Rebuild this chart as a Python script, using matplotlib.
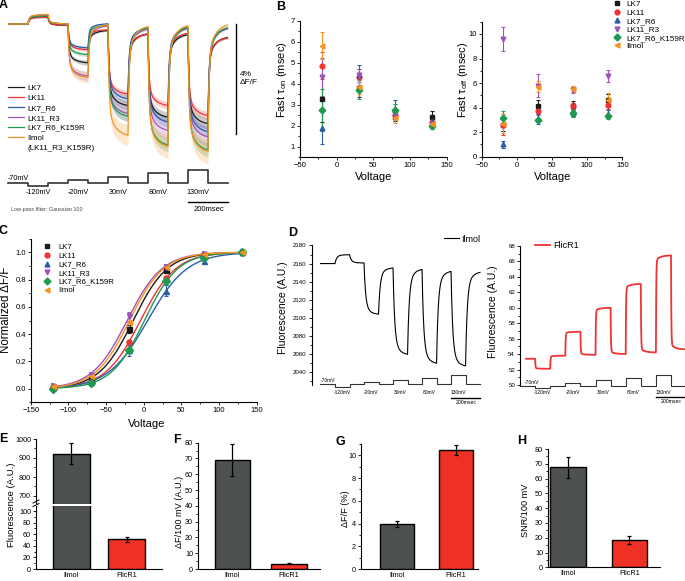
import numpy as np
import matplotlib
matplotlib.use('Agg')
import matplotlib.pyplot as plt
from matplotlib.transforms import Affine2D, blended_transform_factory
from matplotlib.lines import Line2D
from matplotlib.ticker import MultipleLocator

plt.rcParams['font.family'] = ['Liberation Sans', 'DejaVu Sans']
plt.rcParams['mathtext.fontset'] = 'custom'
plt.rcParams['mathtext.rm'] = 'Liberation Sans'
plt.rcParams['mathtext.it'] = 'Liberation Sans:italic'
plt.rcParams['axes.linewidth'] = 0.8

# ---- data ----
names = ['LK7', 'LK11', 'LK7_R6', 'LK11_R3', 'LK7_R6_K159R', 'Ilmol']
colors = ['#1a1a1a', '#ee3333', '#2a5caa', '#9e55b8', '#1f9a50', '#f7931e']
markers = ['s', 'o', '^', 'v', 'D', '<']

hold_mv = -70
step_mv = [-120, -20, 30, 80, 130]
step_on = [100, 300, 500, 700, 900]
step_len = 100
t_end = 1100

# panel A: dF/F (%) at end of each segment (pre, -120, gap, -20, gap, 30, gap, 80, gap, 130, post)
lk7_trace = [0, 0.27, -0.05, -1.43, -0.22, -3.00, -0.32, -3.43, -0.34, -3.67, -0.44]
lk11_trace = [0, 0.25, -0.05, -0.95, -0.20, -2.58, -0.34, -3.00, -0.30, -3.37, -0.46]
lk7r6_trace = [0, 0.33, 0.0, -0.88, 0.02, -2.76, -0.10, -3.61, -0.07, -3.97, -0.09]
lk11r3_trace = [0, 0.33, 0.0, -1.92, -0.04, -3.30, -0.15, -3.92, -0.11, -4.16, -0.11]
k159r_trace = [0, 0.29, 0.0, -1.13, -0.03, -3.40, -0.10, -4.46, -0.07, -4.64, -0.07]
ilmol_trace = [0, 0.35, 0.0, -1.97, 0.0, -4.10, -0.04, -4.52, 0.0, -4.70, 0.03]
sem_frac = [0.05, 0.04, 0.05, 0.08, 0.05, 0.09]

# panel B
tau_v = [-20, 30, 80, 130]
tau_on = [[3.25, 3.8, 2.4, 2.4], [4.85, 4.3, 2.5, 2.15], [1.9, 4.4, 2.75, 2.15],
          [4.3, 4.4, 2.55, 2.05], [2.72, 3.7, 2.75, 2.0], [5.8, 3.85, 2.35, 2.05]]
tau_on_err = [[1.1, 0.45, 0.2, 0.3], [0.65, 0.4, 0.2, 0.15], [0.8, 0.5, 0.45, 0.15],
              [0.9, 0.3, 0.25, 0.15], [1.0, 0.45, 0.3, 0.15], [0.65, 0.35, 0.25, 0.15]]
tau_off = [[2.6, 4.15, 4.1, 4.6], [2.6, 3.75, 4.1, 4.2], [1.0, 3.1, 3.6, 3.5],
           [9.6, 5.8, 5.45, 6.55], [3.15, 2.95, 3.55, 3.3], [2.7, 5.7, 5.55, 4.6]]
tau_off_err = [[0.5, 0.45, 0.4, 0.5], [0.85, 0.35, 0.3, 0.35], [0.3, 0.4, 0.3, 0.3],
               [0.95, 0.9, 0.25, 0.5], [0.55, 0.15, 0.3, 0.2], [0.8, 0.45, 0.25, 0.55]]

# panel C
norm_v = [-120, -70, -20, 30, 80, 130]
norm_df = [[0.01, 0.07, 0.44, 0.87, 0.98, 1.0], [0.01, 0.05, 0.34, 0.81, 0.97, 1.0],
           [0.01, 0.05, 0.28, 0.72, 0.94, 1.0], [0.02, 0.10, 0.53, 0.89, 0.99, 1.0],
           [0.0, 0.04, 0.28, 0.79, 0.96, 1.0], [0.02, 0.09, 0.49, 0.89, 0.99, 1.0]]
norm_err = [[0.01, 0.01, 0.03, 0.015, 0.01, 0.01], [0.01, 0.01, 0.02, 0.02, 0.01, 0.01],
            [0.01, 0.01, 0.04, 0.04, 0.015, 0.01], [0.01, 0.01, 0.03, 0.015, 0.01, 0.01],
            [0.01, 0.01, 0.02, 0.02, 0.01, 0.01], [0.01, 0.01, 0.04, 0.015, 0.01, 0.01]]

# panel D: fluorescence (A.U.) at end of each segment
ilmol_raw = [2160, 2170, 2160.5, 2103, 2156, 2058, 2155, 2048, 2153, 2045, 2152]
flicr1_raw = [53.4, 52.1, 53.8, 56.9, 53.9, 60.0, 54.0, 63.1, 54.2, 66.8, 54.6]

# panels E-H
bar_names = ['Ilmol', 'FlicR1']
bar_colors = ['#4d5152', '#ee3124']
bright = [922, 51]
bright_err = [55, 4]
df_abs = [69, 3.4]
df_abs_err = [10, 0.4]
df_rel = [3.95, 10.45]
df_rel_err = [0.25, 0.45]
snr = [67.5, 18.5]
snr_err = [7, 2.5]

# ---- figure ----
W, H = 685, 581
fig = plt.figure(figsize=(W / 100, H / 100), dpi=100)
px = Affine2D().scale(1 / W, -1 / H).translate(0, 1) + fig.transFigure


def box(x0, y0, x1, y1):
    return fig.add_axes([x0 / W, 1 - y1 / H, (x1 - x0) / W, (y1 - y0) / H])


def ftext(x, y, s, **kw):
    kw.setdefault('ha', 'center')
    kw.setdefault('va', 'center')
    fig.text(x / W, 1 - y / H, s, **kw)


def style(ax, fs=5.5, left_only=False):
    ax.spines['top'].set_visible(False)
    ax.spines['right'].set_visible(False)
    if left_only:
        ax.spines['bottom'].set_visible(False)
        ax.tick_params(axis='x', bottom=False, labelbottom=False)
    ax.tick_params(which='both', direction='out', width=0.6, labelsize=fs, pad=1)
    ax.tick_params(which='major', length=2.5)
    ax.tick_params(which='minor', length=1.5)


def kinetic(levels, fast, slow, frac, t):
    edges = [0] + sorted(step_on + [s + step_len for s in step_on])
    y = np.full(t.shape, float(levels[0]))
    start = levels[0]
    for i in range(1, len(levels)):
        t0 = edges[i]
        m = t >= t0
        dt = t[m] - t0
        y[m] = levels[i] + (start - levels[i]) * (frac * np.exp(-dt / fast) + (1 - frac) * np.exp(-dt / slow))
        if i + 1 < len(levels):
            dn = edges[i + 1] - t0
            start = levels[i] + (start - levels[i]) * (frac * np.exp(-dn / fast) + (1 - frac) * np.exp(-dn / slow))
    return y


def protocol(ax, lw):
    tt, vv = [0], [hold_mv]
    for on, mv in zip(step_on, step_mv):
        tt += [on, on, on + step_len, on + step_len]
        vv += [hold_mv, mv, mv, hold_mv]
    tt.append(t_end)
    vv.append(hold_mv)
    ax.plot(tt, vv, color='#333333', lw=lw, clip_on=False)


def protocol_axes(x0, x1, xlim, base, k, lab_y, bar_y, txt_y, fs, fs_bar, lw, m70):
    ax = box(x0, base - 16, x1, base + 6)
    ax.set_xlim(xlim)
    ax.set_ylim(hold_mv - 6 / k, hold_mv + 16 / k)
    ax.axis('off')
    protocol(ax, lw)
    tr = blended_transform_factory(ax.transData, px)
    for on, mv in zip(step_on, step_mv):
        ax.text(on + step_len / 2, lab_y, f'{mv}mV', transform=tr, ha='center', va='center', fontsize=fs)
    ax.plot([900, 1100], [bar_y, bar_y], transform=tr, color='k', lw=1, clip_on=False)
    ax.text(1005, txt_y, '200msec', transform=tr, ha='center', va='center', fontsize=fs_bar)
    ftext(m70[0], m70[1], '-70mV', ha='left', fontsize=fs)
    return ax


t = np.linspace(0, t_end, 2201)

# ---- A ----
axA = box(8, 10, 228, 170)
axA.set_xlim(0, t_end)
axA.set_ylim(-(170 - 24) / 27.5, (24 - 10) / 27.5)
axA.axis('off')
traces = [lk7_trace, lk11_trace, lk7r6_trace, lk11r3_trace, k159r_trace, ilmol_trace]
handles = []
for lev, c, n, sf in zip(traces, colors, names, sem_frac):
    y = kinetic(lev, 5, 35, 0.75, t)
    sem = sf * np.abs(y) + 0.02
    axA.fill_between(t, y - sem, y + sem, color=c, alpha=0.22, lw=0)
for lev, c, n in zip(traces, colors, names):
    y = kinetic(lev, 5, 35, 0.75, t)
    h, = axA.plot(t, y, color=c, lw=0.9)
    handles.append(h)
axA.plot([1140, 1140], [0, -4], color='k', lw=1, clip_on=False)
axA.text(1160, -1.98, '4%\nΔF/F', ha='left', va='center', fontsize=6, linespacing=1.3)
labels = names[:-1] + ['Ilmol', '(LK11_R3_K159R)']
handles = handles + [Line2D([], [], color='none')]
axA.legend(handles, labels, loc='upper left', bbox_to_anchor=(8, 84.5), bbox_transform=px,
           frameon=False, fontsize=5.8, borderpad=0, borderaxespad=0, handlelength=2.0,
           handletextpad=0.45, labelspacing=0.28)
protocol_axes(8, 228, (0, t_end), 183.2, 0.066, 192.3, 201.7, 209.3, 5.2, 5.5, 1.2, (8, 179))
ftext(11, 209.3, 'Low-pass filter: Gaussian 100', ha='left', fontsize=3.9, color='#444444')

# ---- B ----
axB1 = box(300, 20.7, 446.7, 157)
axB2 = box(481.7, 21.7, 622.3, 156.7)
for ax, vals, errs, ylim, ymaj, ymin in [(axB1, tau_on, tau_on_err, (0.5, 7), 1, 0.5),
                                         (axB2, tau_off, tau_off_err, (0, 11), 2, 1)]:
    for v, e, c, m in zip(vals, errs, colors, markers):
        ax.errorbar(tau_v, v, yerr=e, fmt=m, color=c, ms=3.4, capsize=1.6, elinewidth=0.8, capthick=0.8)
    ax.set_xlim(-50, 150)
    ax.set_ylim(*ylim)
    ax.xaxis.set_major_locator(MultipleLocator(50))
    ax.xaxis.set_minor_locator(MultipleLocator(25))
    ax.yaxis.set_major_locator(MultipleLocator(ymaj))
    ax.yaxis.set_minor_locator(MultipleLocator(ymin))
    style(ax)
axB1.set_yticks([1, 2, 3, 4, 5, 6, 7])
ftext(282, 80, 'Fast τ$_{\\mathrm{on}}$ (msec)', rotation=90, fontsize=8)
ftext(463, 80, 'Fast τ$_{\\mathrm{off}}$ (msec)', rotation=90, fontsize=8)
ftext(373.3, 176.7, 'Voltage', fontsize=8)
ftext(553, 176.7, 'Voltage', fontsize=8)
mk_handles = [Line2D([], [], ls='none', marker=m, color=c, ms=3.5) for m, c in zip(markers, colors)]
fig.legend(mk_handles, names, loc='upper left', bbox_to_anchor=(613, 0.5), bbox_transform=px,
           frameon=False, fontsize=5.9, borderpad=0, borderaxespad=0, handlelength=1.0,
           handletextpad=0.6, labelspacing=0.08)

# ---- C ----
axC = box(30.7, 238.7, 256.7, 402.3)
vf = np.linspace(-120, 130, 300)
v_arr = np.array(norm_v, float)
g50, gk = np.meshgrid(np.arange(-60, 40, 0.25), np.arange(8, 40, 0.25), indexing='ij')
for vals, errs, c, m in zip(norm_df, norm_err, colors, markers):
    pred = 1 / (1 + np.exp((g50[..., None] - v_arr) / gk[..., None]))
    sse = ((pred - np.array(vals)) ** 2).sum(-1)
    i, j = np.unravel_index(np.argmin(sse), sse.shape)
    axC.plot(vf, 1 / (1 + np.exp((g50[i, j] - vf) / gk[i, j])), color=c, lw=1, zorder=2)
    axC.errorbar(norm_v, vals, yerr=errs, fmt=m, color=c, ms=3.6, capsize=1.6,
                 elinewidth=0.8, capthick=0.8, zorder=3)
axC.set_xlim(-150, 150)
axC.set_ylim(-0.1, 1.1)
axC.xaxis.set_major_locator(MultipleLocator(50))
axC.xaxis.set_minor_locator(MultipleLocator(25))
axC.yaxis.set_minor_locator(MultipleLocator(0.1))
axC.set_yticks(np.arange(0, 1.01, 0.2))
axC.set_yticklabels([f'{v:.1f}' for v in np.arange(0, 1.01, 0.2)])
style(axC)
ftext(6, 310, 'Normalized ΔF/F', rotation=90, fontsize=8.3)
ftext(146.7, 424.3, 'Voltage', fontsize=8)
axC.legend(mk_handles, names, loc='upper left', bbox_to_anchor=(43, 243.5), bbox_transform=px,
           frameon=False, fontsize=5.6, borderpad=0, borderaxespad=0, handlelength=1.0,
           handletextpad=1.0, labelspacing=0.16)

# ---- D ----
axD1 = box(311.5, 245.5, 485, 385)
axD1.set_xlim(-62, 1134)
axD1.set_ylim(2040 - 13 / 0.9036, 2180)
hD1, = axD1.plot(t, kinetic(ilmol_raw, 11, 45, 0.85, t), color='k', lw=0.8)
axD1.yaxis.set_minor_locator(MultipleLocator(10))
style(axD1, fs=4.4, left_only=True)
axD1.set_yticks(np.arange(2040, 2181, 20))
axD1.legend([hD1], ['Ilmol'], loc='center left', bbox_to_anchor=(444, 239), bbox_transform=px,
            frameon=False, fontsize=6.5, borderpad=0, borderaxespad=0, handlelength=1.7,
            handletextpad=0.25)
protocol_axes(311.5, 485, (-62, 1134), 384.3, 0.045, 392.3, 397.7, 402.7, 3.5, 3.7, 0.8, (321, 381))
ftext(283.3, 307.5, 'Fluorescence (A.U.)', rotation=90, fontsize=7.5)

axD2 = box(520, 246, 685, 385)
xr = (685 - 520) / 0.151
axD2.set_xlim(0, xr)
axD2.set_ylim(50, 68)
tf = t[t >= 40]
hD2, = axD2.plot(tf, kinetic(flicr1_raw, 2, 30, 0.95, tf), color='#f03434', lw=1.3)
axD2.yaxis.set_major_locator(MultipleLocator(2))
axD2.yaxis.set_minor_locator(MultipleLocator(1))
style(axD2, fs=4.4, left_only=True)
axD2.legend([hD2], ['FlicR1'], loc='center left', bbox_to_anchor=(535, 246), bbox_transform=px,
            frameon=False, fontsize=6.5, borderpad=0, borderaxespad=0, handlelength=1.7,
            handletextpad=0.35)
protocol_axes(520, 685, (0, xr), 385.7, 0.0535, 393, 396.7, 401.7, 3.5, 3.7, 0.8, (525, 382))
ftext(493, 311.7, 'Fluorescence (A.U.)', rotation=90, fontsize=7.5)


# ---- E-H ----
def bars(ax, vals, errs, width):
    ax.bar([0, 1], vals, width=width, color=bar_colors, edgecolor='k', lw=1.0, zorder=2)
    ax.errorbar([0, 1], vals, yerr=errs, fmt='none', ecolor='k', elinewidth=0.9,
                capsize=1.5, capthick=0.9, zorder=3)


axEt = box(36, 439, 162, 503.5)
axEb = box(36, 505.5, 162, 569)
for ax in (axEt, axEb):
    bars(ax, bright, bright_err, 0.67)
    ax.set_xlim(-0.645, 1.645)
    style(ax, fs=5.2)
axEt.set_ylim(1000 - 64.5 / 0.19, 1000)
axEt.yaxis.set_minor_locator(MultipleLocator(50))
axEt.set_yticks([700, 800, 900, 1000])
axEt.spines['bottom'].set_visible(False)
axEt.tick_params(axis='x', bottom=False, labelbottom=False)
axEb.set_ylim(0, 109.5)
axEb.yaxis.set_major_locator(MultipleLocator(20))
axEb.yaxis.set_minor_locator(MultipleLocator(10))
axEb.set_xticks([0, 1])
axEb.set_xticklabels(bar_names)
axEb.tick_params(axis='x', length=0, pad=2)
for yb in (501.5, 505):
    fig.add_artist(Line2D([33, 39], [yb + 1.5, yb - 1.5], transform=px, color='k', lw=0.7))
ftext(12, 505, 'Fluorescence (A.U.)', rotation=90, fontsize=6.8)

panels = [((198, 442.7, 320, 569), df_abs, df_abs_err, 0.63, (-0.61, 1.55), (0, 80), 10, 5,
           'ΔF/100 mV (A.U.)', (180, 512)),
          ((361, 444, 478, 569), df_rel, df_rel_err, 0.58, (-0.61, 1.37), (0, 11), 2, 1,
           'ΔF/F (%)', (345, 509)),
          ((548, 449, 660, 567.3), snr, snr_err, 0.58, (-0.33, 1.5), (0, 80), 10, 5,
           'SNR/100 mV', (525, 510))]
for bx, vals, errs, wd, xl, yl, ymaj, ymin, lab, lp in panels:
    ax = box(*bx)
    bars(ax, vals, errs, wd)
    ax.set_xlim(*xl)
    ax.set_ylim(*yl)
    ax.yaxis.set_major_locator(MultipleLocator(ymaj))
    ax.yaxis.set_minor_locator(MultipleLocator(ymin))
    ax.set_xticks([0, 1])
    ax.set_xticklabels(bar_names)
    style(ax, fs=5.2)
    ax.tick_params(axis='x', length=0, pad=2)
    ftext(lp[0], lp[1], lab, rotation=90, fontsize=6.6)

# panel letters
for s, x, y in [('A', 3, 5), ('B', 281, 7), ('C', 3, 231), ('D', 293, 233),
                ('E', 3, 439), ('F', 177, 440), ('G', 340, 442), ('H', 522, 441)]:
    ftext(x, y, s, fontsize=9, fontweight='bold')

fig.savefig('out.png', dpi=100)
